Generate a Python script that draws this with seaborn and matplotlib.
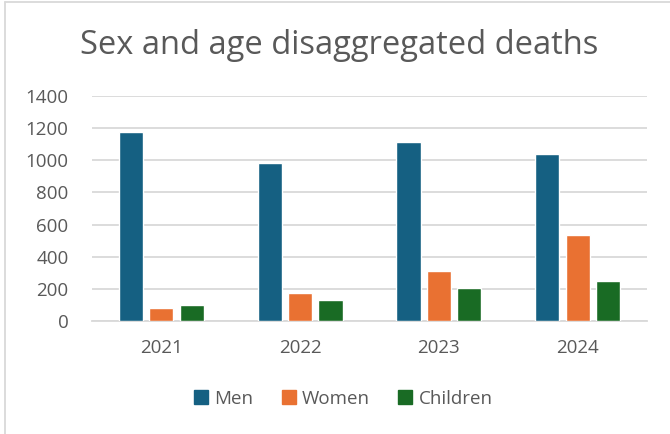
import matplotlib
matplotlib.use("Agg")
import matplotlib.pyplot as plt
import matplotlib.lines as mlines
import seaborn as sns
import pandas as pd

years = ["2021", "2022", "2023", "2024"]
groups = ["Men", "Women", "Children"]
men = [1174, 986, 1112, 1040]
women = [83, 172, 313, 534]
children = [99, 133, 203, 251]
y_ticks = [0, 200, 400, 600, 800, 1000, 1200, 1400]
palette = ["#156082", "#E97132", "#196B24"]

df = pd.DataFrame({
    "Year": years * 3,
    "Group": [g for g in groups for _ in years],
    "Deaths": men + women + children,
})

sns.set_theme(style="white")
plt.rcParams["font.family"] = ["Open Sans", "DejaVu Sans"]
text_color = "#595959"
grid_color = "#D9D9D9"

fig = plt.figure(figsize=(6.70, 4.34), dpi=100)
ax = fig.add_axes([92 / 670, 1 - 321 / 434, (647 - 92) / 670, (321 - 96) / 434])

sns.barplot(data=df, x="Year", y="Deaths", hue="Group", order=years,
            hue_order=groups, palette=palette, width=0.655, gap=0.2,
            saturation=1, errorbar=None, legend=False, ax=ax, zorder=3)

ax.set_ylim(0, 1400)
ax.set_xlim(-0.5, len(years) - 0.5)
ax.set_yticks(y_ticks)
ax.set_yticklabels([str(t) for t in y_ticks])
ax.set_xlabel("")
ax.set_ylabel("")
ax.grid(axis="y", color=grid_color, linewidth=1.3, zorder=0)
ax.grid(axis="x", visible=False)
for side in ["top", "right", "left"]:
    ax.spines[side].set_visible(False)
ax.spines["bottom"].set_color(grid_color)
ax.spines["bottom"].set_linewidth(1.3)
ax.tick_params(axis="both", length=0, labelsize=13.5, labelcolor=text_color)
ax.tick_params(axis="y", pad=17)
ax.tick_params(axis="x", pad=13)

fig.text(339 / 670, 1 - 45 / 434, "Sex and age disaggregated deaths",
         ha="center", va="center", fontsize=23.5, color=text_color)

handles = [mlines.Line2D([], [], marker="s", linestyle="none", markersize=9.5,
                         markerfacecolor=c, markeredgecolor=c) for c in palette]
fig.legend(handles, groups, loc="center", bbox_to_anchor=(343 / 670, 1 - 399 / 434),
           ncol=3, frameon=False, fontsize=13.5, labelcolor=text_color,
           handletextpad=0.3, columnspacing=1.5, handlelength=0.8)

# chart frame edges
fig.add_artist(mlines.Line2D([5 / 670, 5 / 670], [0, 1 - 2 / 434], color=grid_color,
                             linewidth=1.3, transform=fig.transFigure))
fig.add_artist(mlines.Line2D([5 / 670, 1], [1 - 2 / 434, 1 - 2 / 434], color=grid_color,
                             linewidth=1.3, transform=fig.transFigure))

fig.savefig("out.png", dpi=100, facecolor="white")
